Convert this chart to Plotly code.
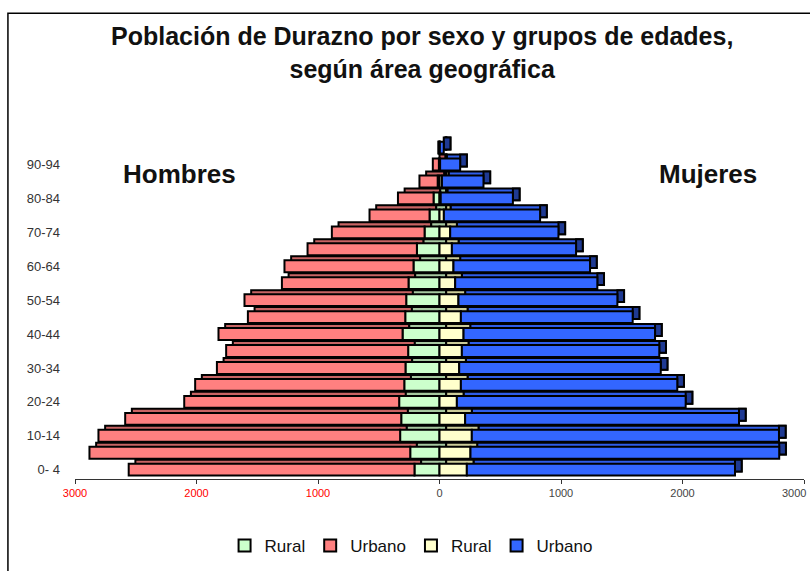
import plotly.graph_objects as go

age_groups = ["0- 4", "5- 9", "10-14", "15-19", "20-24", "25-29", "30-34", "35-39",
              "40-44", "45-49", "50-54", "55-59", "60-64", "65-69", "70-74", "75-79",
              "80-84", "85-89", "90-94", "95 y más"]
men_rural = [206, 241, 324, 315, 332, 290, 280, 258, 304, 282, 274, 255, 214, 186, 123, 82, 49, 15, 5, 2]
men_urban = [2352, 2640, 2483, 2272, 1769, 1721, 1552, 1498, 1515, 1295, 1331, 1042, 1062, 900, 763, 494, 293, 150, 50, 8]
women_rural = [225, 255, 266, 211, 143, 176, 162, 184, 198, 176, 156, 129, 115, 102, 88, 36, 10, 20, 5, 3]
women_urban = [2207, 2541, 2528, 2254, 1883, 1781, 1659, 1625, 1576, 1414, 1308, 1170, 1124, 1022, 891, 792, 594, 342, 165, 32]
x_ticks = [-3000, -2000, -1000, 0, 1000, 2000, 3000]
x_tick_text = ['<span style="color:#FF0000">3000</span>', '<span style="color:#FF0000">2000</span>',
               '<span style="color:#FF0000">1000</span>', '0', '1000', '2000', '']
last_tick_label = "3000"   # drawn right-aligned so it stays inside the page

FONT = "Liberation Sans, Arial, sans-serif"
DEPTH = 55          # depth of the 3-D effect in data units
BW = 0.7            # bar thickness
LIFT = 0.24         # vertical shift of the back face
OUT = dict(color="black", width=2)

c_mr, c_mu, c_wr, c_wu = "#CCFFCC", "#FF8080", "#FFFFCC", "#3366FF"
b_mr, b_mu, b_wr, b_wu = "#A6C8A0", "#C86464", "#CCCC99", "#2F5DE8"
side_wu = "#1F3A93"

neg = lambda a: [-v for v in a]
men_total = [r + u for r, u in zip(men_rural, men_urban)]
women_total = [r + u for r, u in zip(women_rural, women_urban)]

fig = go.Figure()

def bar(x, base, color, name=None, back=False, legend=False):
    fig.add_trace(go.Bar(
        y=age_groups, x=x, base=base, orientation="h",
        width=BW, offset=(-BW / 2 + LIFT) if back else -BW / 2,
        marker=dict(color=color, line=OUT),
        name=name, showlegend=legend, hoverinfo="skip" if back else None,
    ))

# back faces (3-D depth)
bar(neg(men_urban), [-r + DEPTH for r in men_rural], b_mu, back=True)
bar(neg(men_rural), [DEPTH] * len(age_groups), b_mr, back=True)
bar(women_urban, [r + DEPTH for r in women_rural], b_wu, back=True)
bar(women_rural, [DEPTH] * len(age_groups), b_wr, back=True)
bar([DEPTH] * len(age_groups), women_total, side_wu, back=True)

# front faces
bar(neg(men_rural), [0] * len(age_groups), c_mr, name="Rural", legend=True)
bar(neg(men_urban), neg(men_rural), c_mu, name="Urbano", legend=True)
bar(women_rural, [0] * len(age_groups), c_wr, name="Rural", legend=True)
bar(women_urban, women_rural, c_wu, name="Urbano", legend=True)

fig.update_layout(
    width=810, height=571,
    margin=dict(l=75, r=6, t=134, b=92),
    barmode="overlay",
    paper_bgcolor="white", plot_bgcolor="white",
    font=dict(family=FONT, color="#222222"),
    xaxis=dict(range=[-3000, 3000], tickvals=x_ticks, ticktext=x_tick_text,
               showgrid=False, zeroline=False, showline=True, linecolor="#333333",
               linewidth=1, ticks="outside", ticklen=4, tickcolor="#333333",
               tickfont=dict(size=11, color="#444444"), automargin=False,
               ticklabeloverflow="allow"),
    yaxis=dict(range=[-0.55, 19.8], tickvals=age_groups[::2],
               showgrid=False, zeroline=False, showline=False, ticks="",
               ticklabelstandoff=14, tickfont=dict(size=13, color="#333333"),
               automargin=False),
    legend=dict(orientation="h", x=0.461, xanchor="center", y=-0.194, yanchor="middle",
                font=dict(size=17, color="#111111"), traceorder="normal",
                itemwidth=30, tracegroupgap=0),
    showlegend=True,
)

fig.add_annotation(xref="x", yref="paper", x=x_ticks[-1], y=-0.041, showarrow=False,
                   xanchor="right", yanchor="middle", xshift=4,
                   text=last_tick_label, font=dict(size=11, color="#444444"))

fig.add_annotation(xref="paper", yref="paper", x=0.476, y=1.235, showarrow=False,
                   xanchor="center", yanchor="middle",
                   text="<b>Población de Durazno por sexo y grupos de edades,<br>según área geográfica</b>",
                   font=dict(size=25, color="#111111"), align="center")
fig.add_annotation(xref="paper", yref="paper", x=0.144, y=0.884, showarrow=False,
                   xanchor="center", yanchor="middle",
                   text="<b>Hombres</b>", font=dict(size=26, color="#111111"))
fig.add_annotation(xref="paper", yref="paper", x=0.868, y=0.884, showarrow=False,
                   xanchor="center", yanchor="middle",
                   text="<b>Mujeres</b>", font=dict(size=26, color="#111111"))

fig.add_shape(type="rect", xref="paper", yref="paper",
              x0=-0.092, x1=1.02, y0=-0.3, y1=1.35,
              line=dict(color="black", width=1.5), fillcolor="rgba(0,0,0,0)", layer="below")

fig.write_html("out.html", config={"displayModeBar": False},
               post_script="document.body.style.margin='0px';document.body.style.overflow='hidden';")
